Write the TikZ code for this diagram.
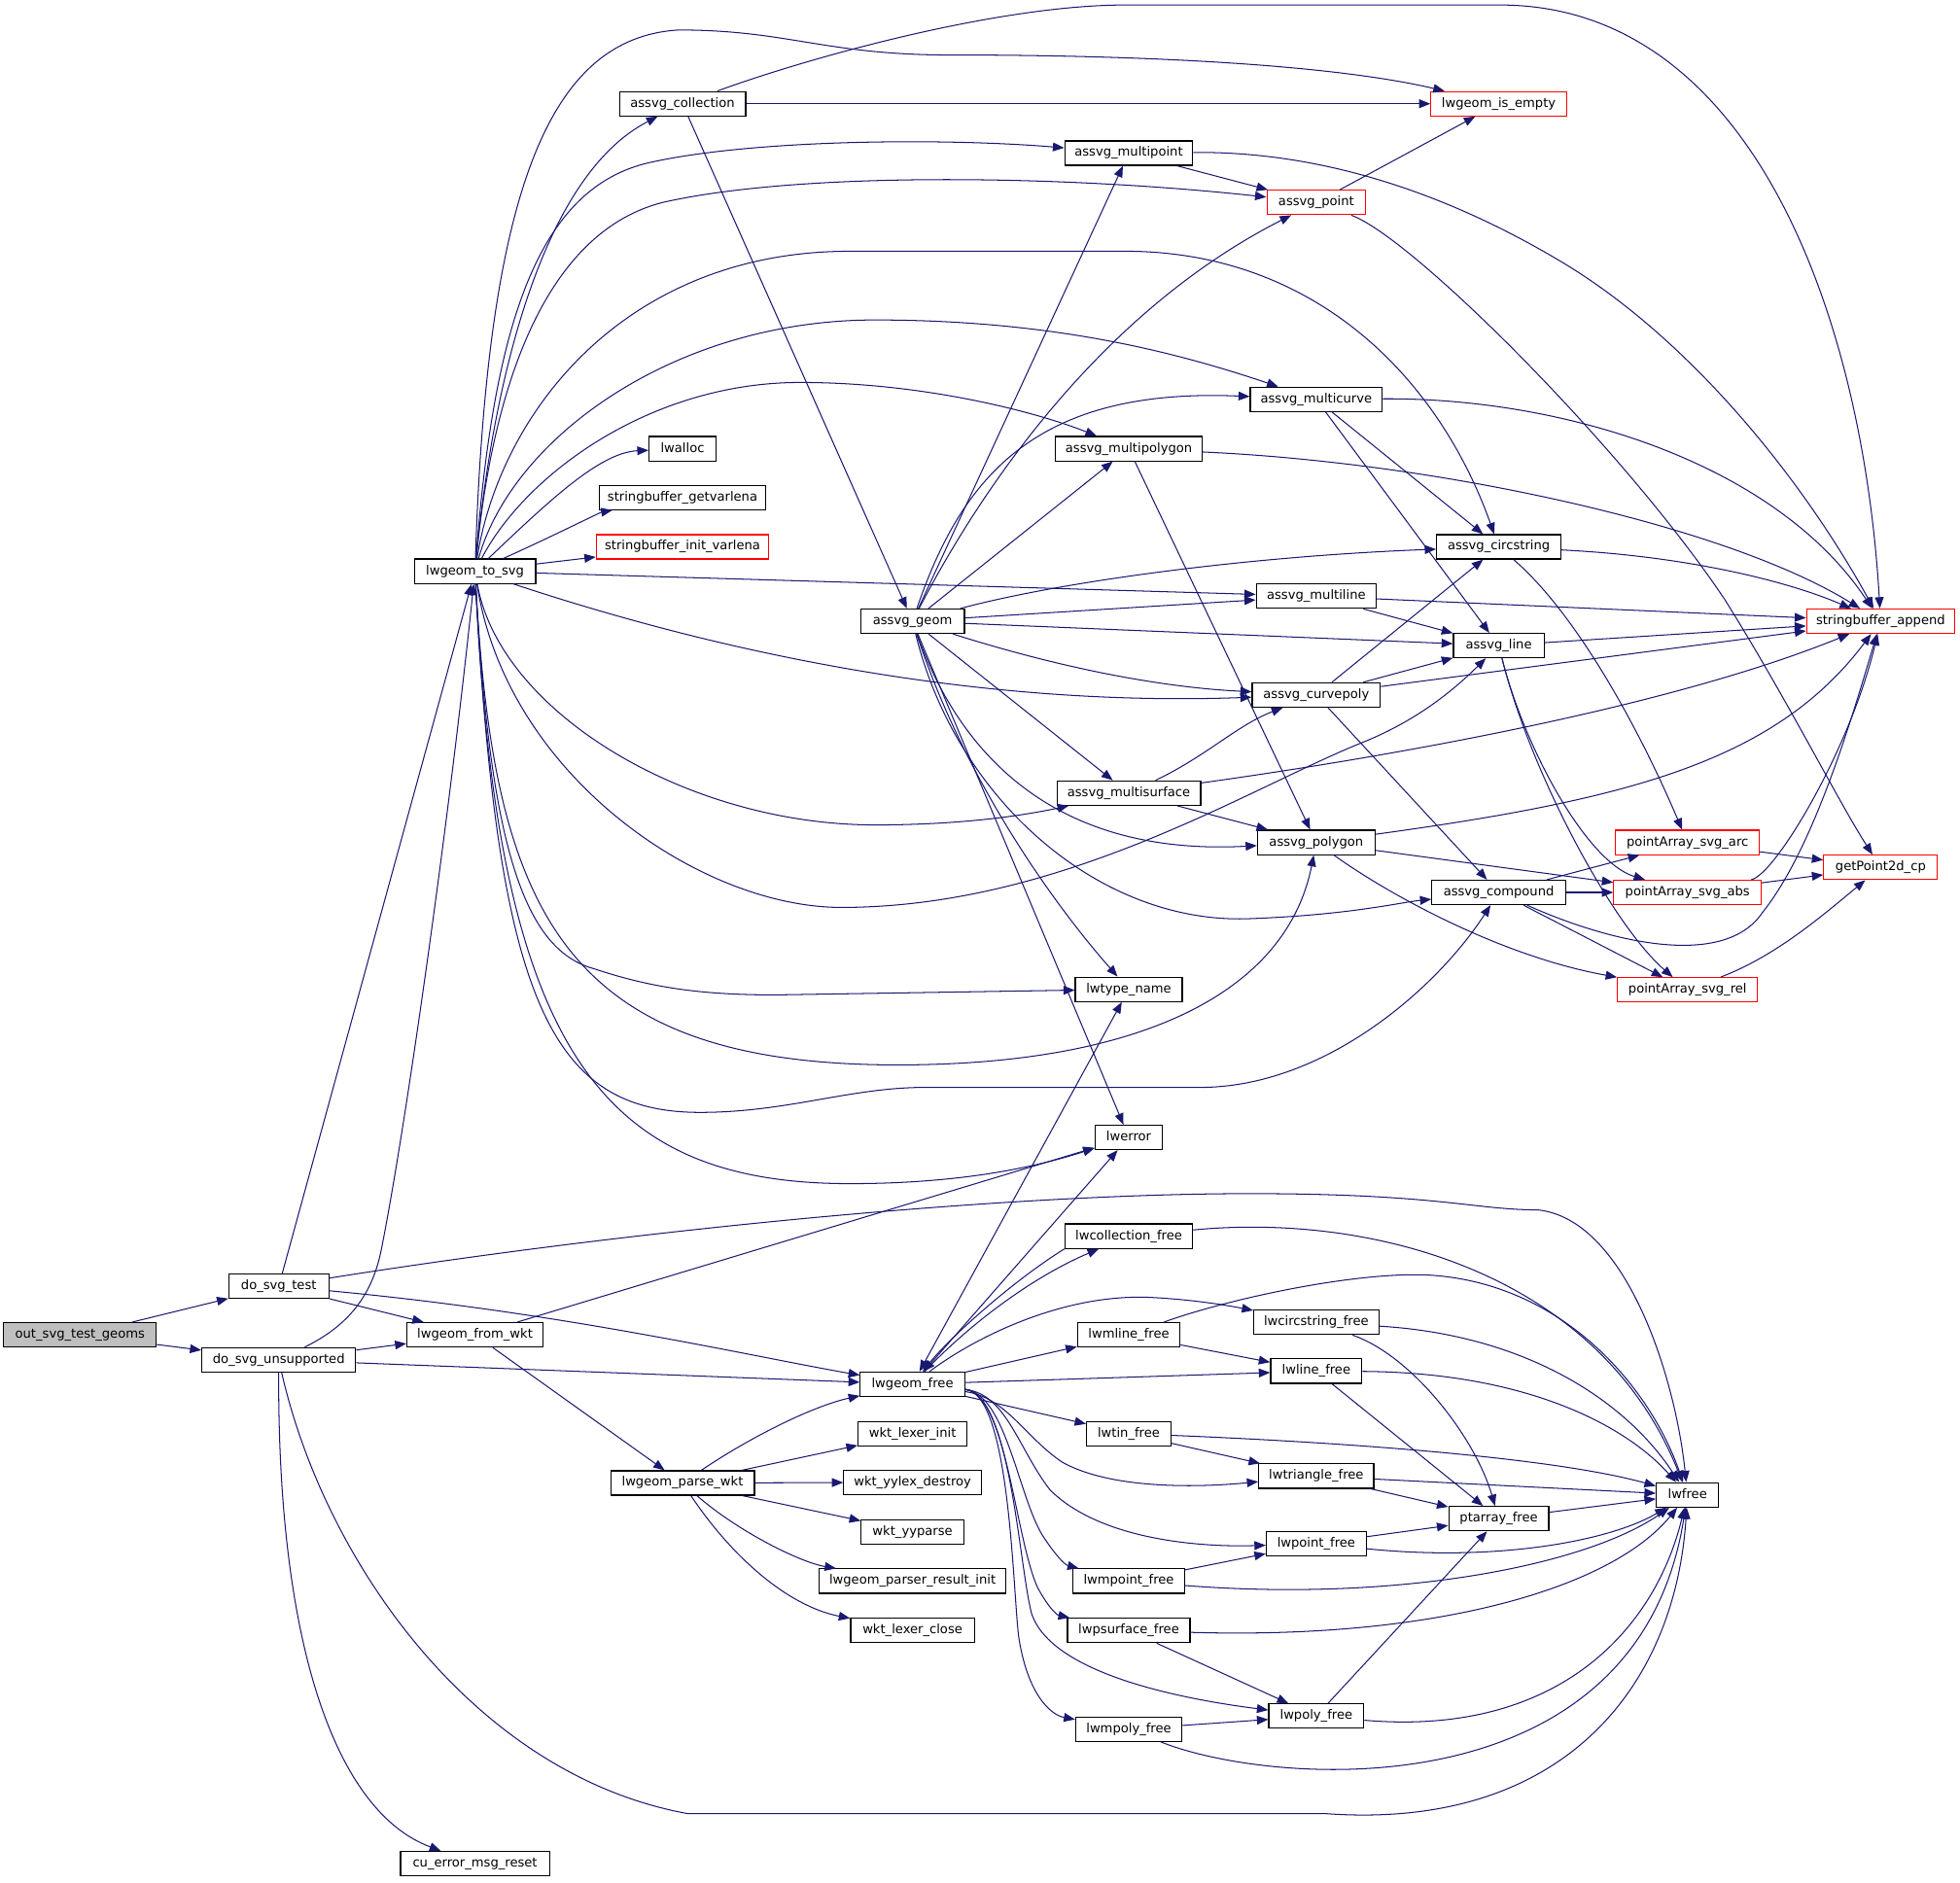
\documentclass[tikz,border=0pt]{standalone}
\usepackage{fontspec}
\setmainfont{DejaVu Sans}
\usetikzlibrary{arrows.meta}

\begin{document}
\begin{tikzpicture}[x=1pt,y=-1pt,>={Triangle[length=9pt,width=7pt]}]
  % Colors
  \definecolor{callcolor}{HTML}{191970}
  \definecolor{rootcolor}{HTML}{BFBFBF}

  % Styles
  \tikzstyle{fn}=[draw=black,line width=0.9pt,minimum height=19.5pt,inner sep=0pt,
    text height=7.6pt,text depth=2.2pt,font=\fontsize{10.2}{12}\selectfont]
  \tikzstyle{root fn}=[fn,fill=rootcolor]
  \tikzstyle{red fn}=[fn,draw=red]
  \tikzstyle{call}=[draw=callcolor,line width=0.8pt,->]
  \tikzstyle{call both}=[call,<->]

  \useasboundingbox (0,0) rectangle (1568,1505.8);

  % The functions, one column per rank
  \node[root fn,minimum width=122pt] (outsvg) at (64,1068) {out\_svg\_test\_geoms};

  \node[fn,minimum width=80pt] (dotest) at (223,1029) {do\_svg\_test};
  \node[fn,minimum width=123pt] (dounsup) at (223,1088) {do\_svg\_unsupported};

  \node[fn,minimum width=97pt] (tosvg) at (380,457) {lwgeom\_to\_svg};
  \node[fn,minimum width=109pt] (fromwkt) at (380,1068) {lwgeom\_from\_wkt};
  \node[fn,minimum width=119pt] (cureset) at (380,1491) {cu\_error\_msg\_reset};

  \node[fn,minimum width=101pt] (coll) at (546,83) {assvg\_collection};
  \node[fn,minimum width=53.5pt] (lwalloc) at (546,359) {lwalloc};
  \node[fn,minimum width=133pt] (sbget) at (546,398) {stringbuffer\_getvarlena};
  \node[red fn,minimum width=138pt] (sbinit) at (546,437.5) {stringbuffer\_init\_varlena};
  \node[fn,minimum width=115pt] (parsewkt) at (546,1186.5) {lwgeom\_parse\_wkt};

  \node[fn,minimum width=83pt] (geom) at (730,497) {assvg\_geom};
  \node[fn,minimum width=83.5pt] (gfree) at (730,1107.5) {lwgeom\_free};
  \node[fn,minimum width=87pt] (lexinit) at (730,1147) {wkt\_lexer\_init};
  \node[fn,minimum width=110pt] (yydestroy) at (730,1186) {wkt\_yylex\_destroy};
  \node[fn,minimum width=82pt] (yyparse) at (730,1225.5) {wkt\_yyparse};
  \node[fn,minimum width=149pt] (resinit) at (730,1265) {lwgeom\_parser\_result\_init};
  \node[fn,minimum width=99pt] (lexclose) at (730,1304.5) {wkt\_lexer\_close};

  \node[fn,minimum width=102.5pt] (mpoint) at (903,122.5) {assvg\_multipoint};
  \node[fn,minimum width=117pt] (mpoly) at (903,359) {assvg\_multipolygon};
  \node[fn,minimum width=115pt] (msurf) at (903,634.5) {assvg\_multisurface};
  \node[fn,minimum width=85.5pt] (typename) at (903,791.5) {lwtype\_name};
  \node[fn,minimum width=54pt] (lwerror) at (903,910) {lwerror};
  \node[fn,minimum width=102pt] (collfree) at (903,989) {lwcollection\_free};
  \node[fn,minimum width=82pt] (mlinefree) at (903,1068) {lwmline\_free};
  \node[fn,minimum width=67.5pt] (tinfree) at (903,1147) {lwtin\_free};
  \node[fn,minimum width=89pt] (mpointfree) at (903,1265) {lwmpoint\_free};
  \node[fn,minimum width=98pt] (psurffree) at (903,1304.5) {lwpsurface\_free};
  \node[fn,minimum width=85pt] (mpolyfree) at (903,1383.5) {lwmpoly\_free};

  \node[red fn,minimum width=79pt] (point) at (1053,162) {assvg\_point};
  \node[fn,minimum width=105.5pt] (mcurve) at (1053,319.5) {assvg\_multicurve};
  \node[fn,minimum width=96pt] (mline) at (1053,477) {assvg\_multiline};
  \node[fn,minimum width=102.5pt] (curvepoly) at (1053,556) {assvg\_curvepoly};
  \node[fn,minimum width=94pt] (polygon) at (1053,674) {assvg\_polygon};
  \node[fn,minimum width=100pt] (circfree) at (1053,1058) {lwcircstring\_free};
  \node[fn,minimum width=73pt] (linefree) at (1053,1097) {lwline\_free};
  \node[fn,minimum width=92pt] (trifree) at (1053,1181) {lwtriangle\_free};
  \node[fn,minimum width=80pt] (pointfree) at (1053,1235) {lwpoint\_free};
  \node[fn,minimum width=76pt] (polyfree) at (1053,1373) {lwpoly\_free};

  \node[red fn,minimum width=108.5pt] (isempty) at (1199,83) {lwgeom\_is\_empty};
  \node[fn,minimum width=99.5pt] (circstring) at (1199,437.5) {assvg\_circstring};
  \node[fn,minimum width=72.5pt] (line) at (1199,516.5) {assvg\_line};
  \node[fn,minimum width=107pt] (compound) at (1199,714) {assvg\_compound};
  \node[fn,minimum width=80pt] (ptfree) at (1199,1215) {ptarray\_free};

  \node[red fn,minimum width=115pt] (arc) at (1350,674) {pointArray\_svg\_arc};
  \node[red fn,minimum width=118pt] (abs) at (1350,714) {pointArray\_svg\_abs};
  \node[red fn,minimum width=112pt] (rel) at (1350,792) {pointArray\_svg\_rel};
  \node[fn,minimum width=50pt] (lwfree) at (1350,1196) {lwfree};

  \node[red fn,minimum width=118.5pt] (sbappend) at (1504.5,497) {stringbuffer\_append};
  \node[red fn,minimum width=91pt] (getpt) at (1504.5,694) {getPoint2d\_cp};

  % Calls of the test functions
  \draw[call] (outsvg) -- (dotest);
  \draw[call] (outsvg) -- (dounsup);

  \draw[call] (dotest) -- (tosvg);
  \draw[call] (dotest) -- (fromwkt);
  \draw[call] (dotest) .. controls (450,1050) and (600,1085) .. (gfree);
  \draw[call] (dotest) .. controls (500,985) and (800,955) .. (1000,955)
    .. controls (1150,955) and (1180,968) .. (1230,968)
    .. controls (1300,975) and (1340,1100) .. (lwfree);

  \draw[call] (dounsup) .. controls (280,1060) and (298,1035) .. (305,1000)
    .. controls (325,900) and (360,650) .. (tosvg);
  \draw[call] (dounsup) -- (fromwkt);
  \draw[call] (dounsup) -- (gfree);
  \draw[call] (dounsup) .. controls (222,1320) and (270,1450) .. (cureset);
  \draw[call] (dounsup) .. controls (260,1250) and (380,1420) .. (550,1451) -- (1060,1451)
    .. controls (1250,1465) and (1340,1350) .. (lwfree);

  % WKT parser
  \draw[call] (fromwkt) -- (lwerror);
  \draw[call] (fromwkt) -- (parsewkt);
  \draw[call] (parsewkt) .. controls (600,1150) and (650,1125) .. (gfree);
  \draw[call] (parsewkt) -- (lexinit);
  \draw[call] (parsewkt) -- (yydestroy);
  \draw[call] (parsewkt) -- (yyparse);
  \draw[call] (parsewkt) .. controls (590,1225) and (640,1250) .. (resinit);
  \draw[call] (parsewkt) .. controls (585,1245) and (630,1285) .. (lexclose);

  % lwgeom_to_svg, upwards
  \draw[call] (tosvg) .. controls (395,300) and (435,140) .. (coll);
  \draw[call] (tosvg) .. controls (390,150) and (440,30) .. (543,24)
    .. controls (630,24) and (660,44) .. (760,44)
    .. controls (950,44) and (1080,55) .. (isempty);
  \draw[call] (tosvg) .. controls (395,260) and (430,150) .. (520,130)
    .. controls (600,112) and (750,110) .. (mpoint);
  \draw[call] (tosvg) .. controls (395,300) and (440,185) .. (530,162)
    .. controls (640,137) and (850,140) .. (point);
  \draw[call] (tosvg) .. controls (400,330) and (500,201) .. (680,201) -- (900,201)
    .. controls (1050,201) and (1150,300) .. (circstring);
  \draw[call] (tosvg) .. controls (410,350) and (540,256) .. (700,256)
    .. controls (850,256) and (950,285) .. (mcurve);
  \draw[call] (tosvg) .. controls (420,380) and (520,306) .. (640,306)
    .. controls (740,306) and (830,330) .. (mpoly);
  \draw[call] (tosvg) .. controls (440,400) and (480,362) .. (lwalloc);
  \draw[call] (tosvg) .. controls (440,430) and (480,410) .. (sbget);
  \draw[call] (tosvg) -- (sbinit);
  \draw[call] (tosvg) -- (mline);
  \draw[call] (tosvg) .. controls (600,530) and (800,565) .. (curvepoly);

  % lwgeom_to_svg, downwards
  \draw[call] (tosvg) .. controls (400,570) and (550,660) .. (700,660)
    .. controls (780,660) and (830,650) .. (msurf);
  \draw[call] (tosvg) .. controls (405,620) and (560,726) .. (673,726)
    .. controls (850,726) and (1000,630) .. (1090,594)
    .. controls (1140,574) and (1170,545) .. (line);
  \draw[call] (tosvg) .. controls (392,680) and (420,760) .. (475,775)
    .. controls (520,790) and (560,796) .. (620,796) -- (typename);
  \draw[call] (tosvg) .. controls (395,730) and (450,852) .. (718,852)
    .. controls (920,852) and (1030,790) .. (polygon);
  \draw[call] (tosvg) .. controls (398,800) and (440,890) .. (560,890)
    .. controls (630,890) and (680,870) .. (740,870) -- (960,870)
    .. controls (1060,870) and (1150,790) .. (compound);
  \draw[call] (tosvg) .. controls (398,840) and (480,947) .. (680,947)
    .. controls (780,947) and (840,930) .. (lwerror);

  % assvg_collection and assvg_geom
  \draw[call] (coll) -- (isempty);
  \draw[call] (coll) .. controls (650,45) and (800,4) .. (900,4) -- (1200,4)
    .. controls (1400,4) and (1490,250) .. (sbappend);
  \draw[call] (coll) -- (geom);

  \draw[call] (geom) -- (mpoint);
  \draw[call] (geom) .. controls (775,410) and (870,255) .. (point);
  \draw[call] (geom) .. controls (770,380) and (830,310) .. (mcurve);
  \draw[call] (geom) -- (mpoly);
  \draw[call] (geom) .. controls (850,465) and (1000,445) .. (circstring);
  \draw[call] (geom) -- (mline);
  \draw[call] (geom) -- (line);
  \draw[call] (geom) .. controls (850,535) and (930,550) .. (curvepoly);
  \draw[call] (geom) -- (msurf);
  \draw[call] (geom) .. controls (770,610) and (850,685) .. (polygon);
  \draw[call] (geom) .. controls (765,640) and (880,740) .. (1000,735)
    .. controls (1080,732) and (1120,722) .. (compound);
  \draw[call] (geom) .. controls (770,620) and (840,720) .. (typename);
  \draw[call] (geom) -- (lwerror);

  % the assvg_ family
  \draw[call] (mpoint) -- (point);
  \draw[call] (mpoint) .. controls (1050,121) and (1150,150) .. (1250,210)
    .. controls (1350,270) and (1440,380) .. (sbappend);
  \draw[call] (point) -- (isempty);
  \draw[call] (point) .. controls (1130,190) and (1300,360) .. (1380,480)
    .. controls (1430,560) and (1470,640) .. (getpt);
  \draw[call] (mcurve) .. controls (1250,318) and (1420,370) .. (sbappend);
  \draw[call] (mcurve) -- (circstring);
  \draw[call] (mcurve) -- (line);
  \draw[call] (mpoly) .. controls (1150,370) and (1380,420) .. (sbappend);
  \draw[call] (mpoly) -- (polygon);
  \draw[call] (msurf) .. controls (965,605) and (990,580) .. (curvepoly);
  \draw[call] (msurf) -- (polygon);
  \draw[call] (msurf) .. controls (1150,600) and (1350,560) .. (sbappend);
  \draw[call] (circstring) .. controls (1350,445) and (1430,465) .. (sbappend);
  \draw[call] (circstring) .. controls (1260,490) and (1310,580) .. (arc);
  \draw[call] (mline) -- (sbappend);
  \draw[call] (mline) -- (line);
  \draw[call] (line) -- (sbappend);
  \draw[call] (line) .. controls (1220,600) and (1270,690) .. (abs);
  \draw[call] (line) .. controls (1225,620) and (1290,740) .. (rel);
  \draw[call] (curvepoly) -- (circstring);
  \draw[call] (curvepoly) -- (line);
  \draw[call] (curvepoly) -- (sbappend);
  \draw[call] (curvepoly) -- (compound);
  \draw[call] (polygon) .. controls (1300,640) and (1420,610) .. (sbappend);
  \draw[call] (polygon) -- (abs);
  \draw[call] (polygon) .. controls (1110,715) and (1200,765) .. (rel);
  \draw[call] (compound) -- (arc);
  \draw[call] (compound) -- (abs);
  \draw[call] (compound) -- (rel);
  \draw[call] (compound) .. controls (1290,755) and (1380,775) .. (1410,730)
    .. controls (1450,680) and (1480,580) .. (sbappend);
  \draw[call] (arc) -- (getpt);
  \draw[call] (abs) -- (getpt);
  \draw[call] (abs) .. controls (1420,700) and (1480,600) .. (sbappend);
  \draw[call] (rel) .. controls (1420,765) and (1455,735) .. (getpt);

  % lwgeom_free
  \draw[call both] (gfree) -- (typename);
  \draw[call both] (gfree) -- (lwerror);
  \draw[call] (collfree.south west) .. controls (810,1025) and (760,1070) .. (gfree);
  \draw[call] (gfree) .. controls (780,1055) and (830,1020) .. (collfree);
  \draw[call] (gfree) .. controls (780,1070) and (850,1035) .. (920,1038)
    .. controls (960,1040) and (990,1046) .. (circfree);
  \draw[call] (gfree) -- (mlinefree);
  \draw[call] (gfree) -- (linefree);
  \draw[call] (gfree) -- (tinfree);
  \draw[call] (gfree) .. controls (805,1118) and (820,1150) .. (850,1170)
    .. controls (890,1192) and (960,1190) .. (trifree);
  \draw[call] (gfree) .. controls (805,1115) and (815,1160) .. (840,1192)
    .. controls (880,1232) and (960,1238) .. (pointfree);
  \draw[call] (gfree) .. controls (805,1115) and (815,1200) .. (835,1230)
    .. controls (845,1245) and (852,1252) .. (mpointfree);
  \draw[call] (gfree) .. controls (805,1115) and (812,1230) .. (830,1270)
    .. controls (838,1285) and (845,1292) .. (psurffree);
  \draw[call] (gfree) .. controls (808,1115) and (815,1250) .. (825,1290)
    .. controls (840,1340) and (950,1360) .. (polyfree);
  \draw[call] (gfree) .. controls (808,1115) and (810,1270) .. (815,1310)
    .. controls (822,1355) and (840,1372) .. (mpolyfree);

  % the lw*_free family
  \draw[call] (collfree) .. controls (1100,970) and (1280,1020) .. (lwfree);
  \draw[call] (mlinefree) .. controls (980,1040) and (1080,1018) .. (1140,1020)
    .. controls (1250,1025) and (1320,1110) .. (lwfree);
  \draw[call] (mlinefree) -- (linefree);
  \draw[call] (circfree) .. controls (1220,1068) and (1300,1120) .. (lwfree);
  \draw[call] (circfree) .. controls (1130,1085) and (1180,1150) .. (ptfree);
  \draw[call] (linefree) .. controls (1220,1098) and (1300,1140) .. (lwfree);
  \draw[call] (linefree) -- (ptfree);
  \draw[call] (tinfree) .. controls (1100,1155) and (1250,1168) .. (lwfree);
  \draw[call] (tinfree) -- (trifree);
  \draw[call] (trifree) -- (lwfree);
  \draw[call] (trifree) -- (ptfree);
  \draw[call] (pointfree) -- (ptfree);
  \draw[call] (pointfree) .. controls (1200,1250) and (1290,1232) .. (lwfree);
  \draw[call] (mpointfree) -- (pointfree);
  \draw[call] (mpointfree) .. controls (1120,1282) and (1270,1252) .. (lwfree);
  \draw[call] (psurffree) .. controls (1150,1312) and (1290,1270) .. (lwfree);
  \draw[call] (psurffree) -- (polyfree);
  \draw[call] (polyfree) -- (ptfree);
  \draw[call] (polyfree) .. controls (1250,1390) and (1325,1300) .. (lwfree);
  \draw[call] (mpolyfree) -- (polyfree);
  \draw[call] (mpolyfree) .. controls (1020,1430) and (1310,1450) .. (lwfree);
  \draw[call] (ptfree) -- (lwfree);
\end{tikzpicture}
\end{document}
